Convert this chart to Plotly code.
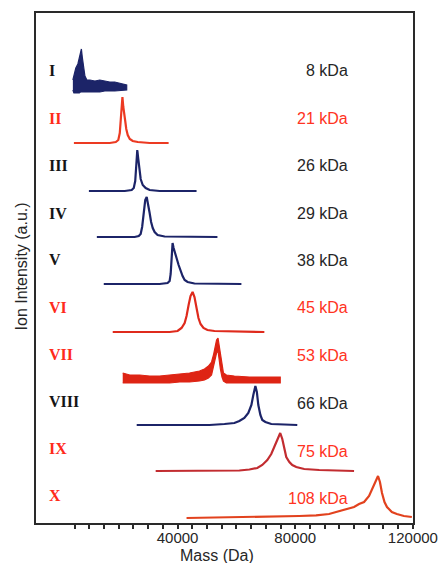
import plotly.graph_objects as go

# ---------------- data ----------------
roman = ["I", "II", "III", "IV", "V", "VI", "VII", "VIII", "IX", "X"]
kda = ["8 kDa", "21 kDa", "26 kDa", "29 kDa", "38 kDa", "45 kDa", "53 kDa", "66 kDa", "75 kDa", "108 kDa"]
is_red = [False, True, False, False, False, True, True, False, True, True]
trace_colors = ["#1c2468", "#ec3a22", "#1c2468", "#1c2468", "#1c2468",
                "#df2a1c", "#de2414", "#1c2468", "#c22c30", "#e2421e"]
offsets = [435, 380, 332, 286, 239, 191, 143, 98, 52, 5]

# noisy spectra as envelopes (mass in Da, intensity in a.u.)
mass_I = [4400, 4750, 5400, 6100, 6600, 6950, 7300, 7600, 8000, 8500, 9150, 10200,
          11900, 13550, 15250, 16950, 18650, 20350, 22700]
upper_I = [8, 12, 20, 24, 30, 36, 39, 31, 20, 12, 8, 8, 7, 8, 7, 6, 6, 5, 3]
lower_I = [-2, -5, -5, -5, -5, -4, -4, -4, -4, -4, -4, -4, -4, -4, -3, -3, -3, -3, -2]

mass_VII = [21350, 23750, 27100, 30500, 33900, 37300, 40700, 44050, 47450, 49150, 50500,
            51550, 52200, 52700, 53250, 53750, 54050, 54550, 55100, 55600, 56600, 59300,
            64400, 69500, 74900]
upper_VII = [7, 5, 5, 4, 4, 5, 6, 7, 9, 11, 14, 18, 25, 33, 40, 42, 36, 24, 13, 7, 5, 4, 3, 3, 3]
lower_VII = [-3, -3, -3, -3, -3, -3, -2, -2, -1, 0, 2, 5, 11, 19, 27, 29, 23, 11, 3, -1, -3, -3, -3, -3, -3]

mass_II = [4750, 13550, 16950, 19000, 19850, 20350, 20700, 21000, 21250, 21550, 21850,
           22200, 22550, 23050, 23750, 24750, 26450, 30500, 36950]
int_II = [0, 0, 0, 1, 3, 10, 26, 42, 46, 36, 31, 22, 14, 8, 4, 2, 1, 0, 0]

mass_III = [9850, 16950, 22050, 24400, 25100, 25600, 25950, 26300, 26600, 26950, 27450,
            28150, 29150, 30500, 33900, 46450]
int_III = [0, 0, 0, 1, 3, 10, 25, 41, 33, 22, 12, 6, 3, 1, 0, 0]

mass_IV = [12550, 20350, 25400, 26800, 27450, 27950, 28500, 29000, 29500, 30000, 30500,
           31000, 31550, 32200, 33200, 35600, 53550]
int_IV = [0, 0, 0, 1, 3, 10, 25, 37, 40, 33, 24, 15, 9, 5, 2, 0.5, 0]

mass_V = [14900, 27100, 33900, 36600, 37300, 37650, 38000, 38300, 38650, 39150, 39650,
          40350, 41050, 41700, 42400, 43400, 45750, 61700]
int_V = [0, 0, 0, 1, 3, 10, 26, 41, 36, 30, 26, 19, 13, 8, 4, 2, 0.5, 0]

mass_VI = [17950, 30500, 37300, 40000, 41350, 42400, 43050, 43750, 44400, 45100, 45750,
           46450, 47100, 47800, 48800, 50150, 52550, 69500]
int_VI = [0, 0, 0, 1, 4, 9, 16, 27, 36, 40, 35, 24, 14, 8, 4, 2, 1, 0]

mass_VIII = [26100, 40700, 50850, 55950, 59300, 61000, 62700, 64050, 65100, 65750, 66450,
             66950, 67450, 68150, 68800, 69850, 71850, 76300, 80700]
int_VIII = [0, 0, 0, 1, 2, 4, 7, 12, 20, 30, 39, 33, 20, 10, 5, 3, 1, 0.5, 0]

mass_IX = [32550, 47450, 61000, 64400, 67100, 68800, 70500, 71850, 72900, 73900, 74900,
           75600, 76300, 76950, 78000, 79000, 80350, 83050, 88150, 100000]
int_IX = [0, 0, 0.5, 1.5, 3, 6, 11, 17, 24, 31, 38, 32, 22, 14, 9, 6, 4, 2, 1, 0]

mass_X = [43050, 57650, 71200, 81350, 87100, 91500, 93900, 96600, 98300, 100000, 101700,
          103400, 105100, 106100, 107100, 108150, 108800, 109500, 110350, 111200, 112850,
          114550, 116950, 119650]
int_X = [0, 0.5, 1, 2, 2.6, 4, 6, 8, 10, 11, 14, 16, 22, 28, 35, 42, 36, 25, 16, 11, 6, 4, 2, 1]

x_ticks = [40000, 80000, 120000]
x_minor_ticks = list(range(5000, 120001, 5000))

# -------------- figure --------------
fig = go.Figure()

lines = {
    1: (mass_II, int_II), 2: (mass_III, int_III), 3: (mass_IV, int_IV),
    4: (mass_V, int_V), 5: (mass_VI, int_VI), 7: (mass_VIII, int_VIII),
    8: (mass_IX, int_IX), 9: (mass_X, int_X),
}
bands = {0: (mass_I, upper_I, lower_I), 6: (mass_VII, upper_VII, lower_VII)}

for i in range(10):
    off = offsets[i]
    col = trace_colors[i]
    if i in bands:
        m, up, lo = bands[i]
        xs = m + m[::-1]
        ys = [v + off for v in up] + [v + off for v in lo[::-1]]
        fig.add_trace(go.Scatter(x=xs, y=ys, mode="lines", fill="toself", fillcolor=col,
                                 line=dict(color=col, width=1.2), hoverinfo="skip",
                                 showlegend=False))
    else:
        m, iv = lines[i]
        fig.add_trace(go.Scatter(x=m, y=[v + off for v in iv], mode="lines",
                                 line=dict(color=col, width=2.2),
                                 showlegend=False))

roman_y = [453, 405, 358, 310, 264, 216, 169, 122, 75, 28]
kda_y = [453, 405, 358, 310, 263, 216, 168, 120, 72, 25]

ann = []
for i in range(10):
    red = is_red[i]
    ann.append(dict(text="<b>" + roman[i] + "</b>", xref="paper", yref="y", x=0.029, y=roman_y[i],
                    xanchor="left", yanchor="middle", showarrow=False,
                    font=dict(family="Liberation Serif", size=16,
                              color="#ff2a1a" if red else "#141414")))
    ann.append(dict(text=kda[i], xref="paper", yref="y", x=0.833, y=kda_y[i],
                    xanchor="right", yanchor="middle", showarrow=False,
                    font=dict(family="Liberation Sans", size=16,
                              color="#ff3322" if red else "#262626")))

ann.append(dict(text="Mass (Da)", xref="paper", yref="paper", x=0.481, y=-0.0647,
                xanchor="center", yanchor="middle", showarrow=False,
                font=dict(family="Liberation Sans", size=16, color="#262626")))
ann.append(dict(text="Ion Intensity (a.u.)", xref="paper", yref="paper", x=-0.0385, y=0.504,
                xanchor="center", yanchor="middle", showarrow=False, textangle=-90,
                font=dict(family="Liberation Sans", size=16, color="#262626")))

fig.update_layout(
    width=438, height=563, autosize=False,
    margin=dict(l=36, r=25, t=13, b=40),
    plot_bgcolor="white", paper_bgcolor="white",
    annotations=ann,
    xaxis=dict(range=[-8136, 120040], showgrid=False, zeroline=False, automargin=False,
               showline=True, linecolor="#2a2a2a", linewidth=2, mirror=True,
               tickmode="array", tickvals=x_ticks, ticktext=[str(v) for v in x_ticks],
               ticks="outside", ticklen=4, tickwidth=1.5, tickcolor="#2a2a2a",
               ticklabelstandoff=-4, ticklabeloverflow="allow",
               tickfont=dict(family="Liberation Sans", size=15, color="#262626"),
               minor=dict(tickmode="array", tickvals=x_minor_ticks, ticks="outside",
                          ticklen=4, tickwidth=1.5, tickcolor="#2a2a2a")),
    yaxis=dict(range=[0, 510], showgrid=False, zeroline=False, showticklabels=False,
               automargin=False,
               ticks="", showline=True, linecolor="#2a2a2a", linewidth=2, mirror=True),
)

fig.write_html("out.html")
